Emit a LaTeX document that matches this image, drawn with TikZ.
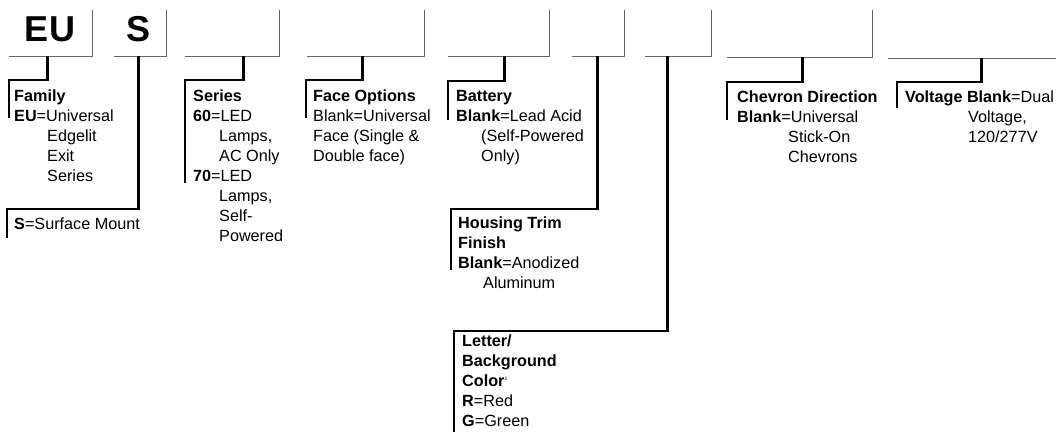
\documentclass[tikz,border=0pt]{standalone}
\usepackage{fontspec}
\setmainfont{Liberation Sans}
\tikzset{
 codebox/.style={minimum height=46pt,inner sep=0pt,anchor=south west},
 boxline/.style={black!60,line width=0.9pt},
 lead/.style={line width=2.8pt,line cap=butt,line join=miter},
 codefont/.style={font=\fontsize{36}{36}\selectfont\bfseries,inner sep=0pt},
 field/.style={anchor=north west,inner sep=0pt,align=left,font=\fontsize{16.2}{20}\selectfont}
}
\begin{document}
\begin{tikzpicture}[x=1pt,y=-1pt]
\useasboundingbox (0,0) rectangle (1056,432);
% code boxes
\node[codebox,minimum width=83pt] (eu) at (9,56) {};
\node[codebox,minimum width=52pt] (s) at (114,56) {};
\node[codebox,minimum width=94pt] (ser) at (185,56) {};
\node[codebox,minimum width=117pt] (face) at (307,56) {};
\node[codebox,minimum width=101pt] (bat) at (448,56) {};
\node[codebox,minimum width=52pt] (hous) at (572,56) {};
\node[codebox,minimum width=66pt] (let) at (645,56) {};
\node[codebox,minimum width=145pt,minimum height=47pt] (chev) at (727,57) {};
\node[codebox,minimum width=168pt,minimum height=48pt] (volt) at (888,58) {};
\foreach \b in {eu,s,ser,face,bat,hous,let,chev}
  \draw[boxline] (\b.north east) -- (\b.south east) -- (\b.south west);
\draw[boxline] (volt.south west) -- (volt.south east);
\node[codefont] (euCode) at (50,29.5) {EU};
\node[codefont] (sCode) at (138.5,29.5) {S};
% field texts
\node[field] (famTxt) at (14,90) {\textbf{Family}\\\textbf{EU}=Universal\\\hspace*{33pt}Edgelit\\\hspace*{33pt}Exit\\\hspace*{33pt}Series};
\node[field] (surfTxt) at (14,218) {\textbf{S}=Surface Mount};
\node[field] (serTxt) at (193,90) {\textbf{Series}\\\textbf{60}=LED\\\hspace*{26pt}Lamps,\\\hspace*{26pt}AC Only\\\textbf{70}=LED\\\hspace*{26pt}Lamps,\\\hspace*{26pt}Self-\\\hspace*{26pt}Powered};
\node[field] (faceTxt) at (313,90) {\textbf{Face Options}\\Blank=Universal\\Face (Single \&\\Double face)};
\node[field] (batTxt) at (456,90) {\textbf{Battery}\\\textbf{Blank}=Lead Acid\\\hspace*{25pt}(Self-Powered\\\hspace*{25pt}Only)};
\node[field] (housTxt) at (458,217) {\textbf{Housing Trim}\\\textbf{Finish}\\\textbf{Blank}=Anodized\\\hspace*{25pt}Aluminum};
\node[field] (letTxt) at (462,335) {\textbf{Letter/}\\\textbf{Background}\\\textbf{Color}\textsuperscript{\fontsize{5}{5}\selectfont 1}\\\textbf{R}=Red\\\textbf{G}=Green};
\node[field] (chevTxt) at (737,91) {\textbf{Chevron Direction}\\\textbf{Blank}=Universal\\\hspace*{51pt}Stick-On\\\hspace*{51pt}Chevrons};
\node[field] (voltTxt) at (905,91) {\textbf{Voltage Blank}=Dual\\\hspace*{63pt}Voltage,\\\hspace*{63pt}120/277V};
% leaders
\draw[lead] ([xshift=-3.5pt]eu.south) -- ++(0,24) -| ([xshift=-5pt,yshift=-28pt]famTxt.north west);
\draw[lead] ([xshift=-2pt]s.south) -- ++(0,153) -| ([xshift=-7pt,yshift=-20pt]surfTxt.north west);
\draw[lead] ([xshift=11pt]ser.south) -- ++(0,24) -| ([xshift=-8pt,yshift=-93pt]serTxt.north west);
\draw[lead] ([xshift=-3.5pt]face.south) -- ++(0,24) -| ([xshift=-7pt,yshift=-28pt]faceTxt.north west);
\draw[lead] ([xshift=5.5pt]bat.south) -- ++(0,25) -| ([xshift=-8pt,yshift=-30pt]batTxt.north west);
\draw[lead] ([xshift=-1pt]hous.south) -- ++(0,153) -| ([xshift=-7pt,yshift=-53pt]housTxt.north west);
\draw[lead] ([xshift=-11pt]let.south) -- ++(0,275) -| ([xshift=-8pt,yshift=-97pt]letTxt.north west);
\draw[lead] ([xshift=2.5pt]chev.south) -- ++(0,25) -| ([xshift=-10pt,yshift=-29pt]chevTxt.north west);
\draw[lead] ([xshift=9pt]volt.south) -- ++(0,24) -| ([xshift=-8pt,yshift=-17pt]voltTxt.north west);
\end{tikzpicture}
\end{document}
